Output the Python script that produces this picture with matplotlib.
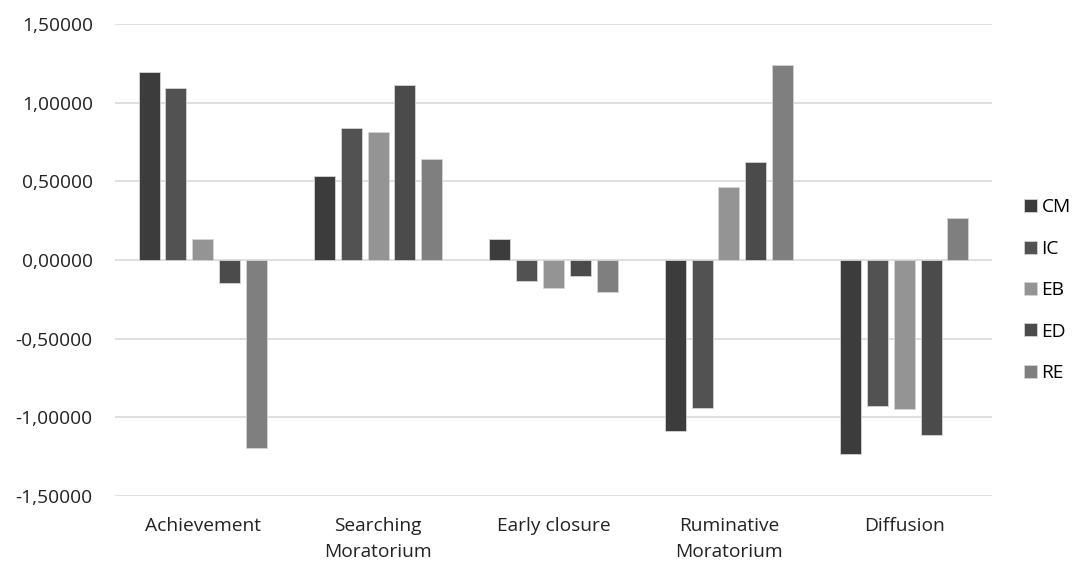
import matplotlib.pyplot as plt
import numpy as np
from matplotlib.ticker import FuncFormatter

plt.rcParams["font.family"] = ["Open Sans", "DejaVu Sans"]

categories = ["Achievement", "Searching\nMoratorium", "Early closure",
              "Ruminative\nMoratorium", "Diffusion"]
series = ["CM", "IC", "EB", "ED", "RE"]

cm = [1.193, 0.534, 0.131, -1.089, -1.235]
ic = [1.095, 0.837, -0.131, -0.943, -0.926]
eb = [0.131, 0.812, -0.180, 0.462, -0.949]
ed = [-0.148, 1.110, -0.104, 0.625, -1.112]
re = [-1.193, 0.640, -0.205, 1.240, 0.265]

values = [cm, ic, eb, ed, re]
colors = ["#3c3c3c", "#525252", "#949494", "#4b4b4b", "#7f7f7f"]

fig = plt.figure(figsize=(10.78, 5.66), dpi=100)
ax = fig.add_axes([115 / 1078, 1 - 496 / 566, 877 / 1078, 472 / 566])

x = np.arange(len(categories))
step = 0.153
width = 0.12
for i, (name, vals, col) in enumerate(zip(series, values, colors)):
    ax.bar(x + (i - 2) * step, vals, width=width, color=col, label=name,
           edgecolor="#d4d4d4", linewidth=0.6, zorder=3)

ax.set_xlim(-0.5, len(categories) - 0.5)
ax.set_ylim(-1.5, 1.5)
ax.set_yticks(np.arange(-1.5, 1.51, 0.5))
ax.yaxis.set_major_formatter(FuncFormatter(lambda v, _: f"{v:.5f}".replace(".", ",")))
ax.set_xticks(x)
ax.set_xticklabels(categories, linespacing=1.6)
ax.grid(axis="y", color="#d9d9d9", linewidth=1.2, zorder=0)
ax.tick_params(axis="both", length=0, labelsize=13.8, colors="#222222")
ax.tick_params(axis="y", pad=16)
ax.tick_params(axis="x", pad=15)
for s in ax.spines.values():
    s.set_visible(False)

ax.legend(loc="center left", bbox_to_anchor=(1.028, 0.436), frameon=False,
          fontsize=13.8, handlelength=0.68, handleheight=0.68, handletextpad=0.22,
          labelspacing=1.22, borderaxespad=0)

fig.savefig("out.png", dpi=100)
